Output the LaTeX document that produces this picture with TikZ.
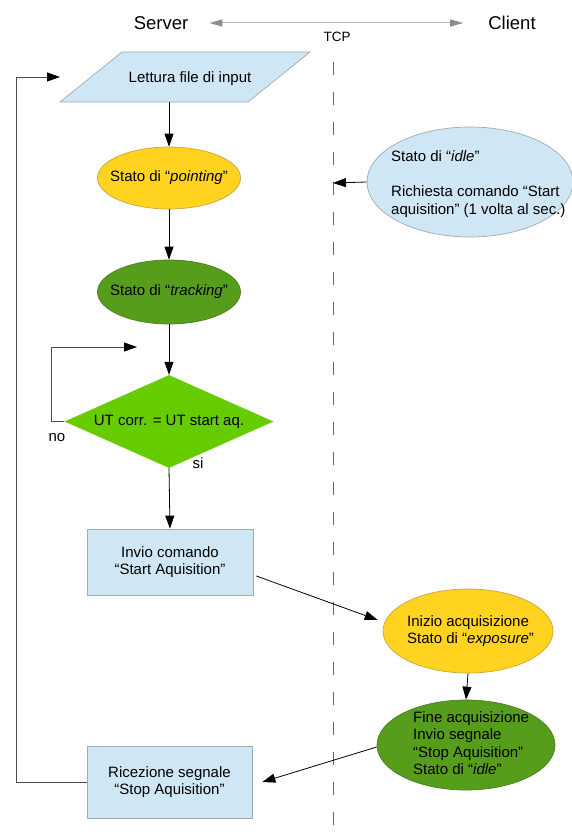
\documentclass[tikz,border=0pt]{standalone}
\usepackage{fontspec}
\setmainfont{Liberation Sans}
\usetikzlibrary{arrows.meta,shapes.geometric}
\definecolor{lblue}{HTML}{CFE7F5}
\definecolor{lbord}{HTML}{9FAAB4}
\definecolor{gold}{HTML}{FFD320}
\definecolor{goldb}{HTML}{C9A640}
\definecolor{dgreen}{HTML}{579D1C}
\definecolor{dgreenb}{HTML}{4A7F22}
\definecolor{bgreen}{HTML}{66CC00}
\begin{document}
\begin{tikzpicture}[x=1pt,y=-1pt,
  txt/.style={font=\fontsize{15}{17.5}\selectfont, inner sep=0pt},
  arr/.style={draw=black, line width=0.8pt, -{Triangle[length=13pt,width=9pt]}},
  looparr/.style={draw=black!70, line width=0.9pt, -{Triangle[length=13pt,width=9pt,color=black]}},
  boxnode/.style={rectangle, draw=lbord, fill=lblue, line width=0.7pt, inner sep=0pt},
  yel/.style={ellipse, draw=goldb, fill=gold, line width=0.7pt, inner sep=0pt},
  grn/.style={ellipse, draw=dgreenb, fill=dgreen, line width=0.7pt, inner sep=0pt},
  blu/.style={ellipse, draw=lbord, fill=lblue, line width=0.7pt, inner sep=0pt},
  dashline/.style={draw=black!60, line width=1pt, dash pattern=on 13pt off 17pt}]
\useasboundingbox[fill=white] (0,0) rectangle (571,834);

% header
\node[font=\fontsize{18.5}{20}\selectfont, inner sep=0pt] (srv) at (161,23) {Server};
\node[font=\fontsize{18.5}{20}\selectfont, inner sep=0pt] (cli) at (512,23) {Client};
\draw[draw=black!30, line width=1pt, {Triangle[length=13pt,width=7pt,color=black!45]}-{Triangle[length=13pt,width=7pt,color=black!45]}, shorten <=21pt, shorten >=25pt] (srv) -- (cli);
\node[font=\fontsize{13.5}{15}\selectfont, inner sep=0pt] (tcp) at (337,37) {TCP};

% dashed separator
\coordinate (dTop) at (333,62);
\coordinate (dBot) at (333,834);
\draw[dashline] (dTop) -- (dBot);

% input parallelogram
\filldraw[fill=lblue, draw=lbord, line width=0.7pt] (122,52) -- (310,52) -- (248,102) -- (60,102) -- cycle;
\node[txt] (inp) at (190,79) {Lettura file di input};
\coordinate (inpB) at (169,102);

% server column
\node[yel, minimum width=143pt, minimum height=62pt] (pt) at (169,178) {};
\node[txt] (ptT) at (pt.center) {Stato di “\textit{pointing}”};
\node[grn, minimum width=143pt, minimum height=64pt] (tr) at (169,292) {};
\node[txt] (trT) at (tr.center) {Stato di “\textit{tracking}”};
\node[diamond, fill=bgreen, draw=none, minimum width=209pt, minimum height=93pt, inner sep=0pt] (dia) at (169,421.5) {};
\node[txt] (diaT) at (dia.center) {UT corr. = UT start aq.};
\node[txt] (no) at (57,438) {no};
\node[txt] (si) at (198,463) {si};
\coordinate (noE) at (137,347);
\node[boxnode, minimum width=166pt, minimum height=66pt] (inv) at (170,562) {};
\node[txt, align=center] (invT) at (inv.center) {Invio comando\\ “Start Aquisition”};
\node[boxnode, minimum width=165pt, minimum height=72pt] (ric) at (169.5,782) {};
\node[txt, align=center] (ricT) at (ric.center) {Ricezione segnale\\ “Stop Aquisition”};
\coordinate (topTip) at (60,77);

% client column
\node[blu, minimum width=206pt, minimum height=110pt] (cl) at (470,182) {};
\node[txt, align=left, anchor=west] (clT) at (391,184) {Stato di “\textit{idle}”\\[17.5pt]Richiesta comando “Start\\aquisition” (1 volta al sec.)};
\coordinate (clTip) at (333,183);
\node[yel, minimum width=170pt, minimum height=84pt] (ex) at (468,631) {};
\node[txt, align=left, anchor=west] (exT) at (407,631) {Inizio acquisizione\\Stato di “\textit{exposure}”};
\node[grn, minimum width=178pt, minimum height=90pt] (fin) at (466,745) {};
\node[txt, align=left, anchor=west] (finT) at (413,743) {Fine acquisizione\\Invio segnale\\“Stop Aquisition”\\Stato di “\textit{idle}”};

% connectors
\draw[arr] (inpB) -- (pt.north);
\draw[arr] (pt.south) -- (tr.north);
\draw[arr] (tr.south) -- (dia.north);
\draw[arr] (dia.south) -- (inv.north);
\draw[looparr] (dia.west) -- ++(-13,0) |- (noE);
\draw[arr] ([xshift=3pt,yshift=-14pt]inv.east) -- ([xshift=-5pt,yshift=11pt]ex.west);
\draw[arr] (ex.south) -- (fin.north);
\draw[arr] ([yshift=-2pt]fin.west) -- ([xshift=10pt]ric.east);
\draw[looparr] (ric.west) -- ++(-70,0) |- (topTip);
\draw[arr] (cl.west) -- (clTip);
\end{tikzpicture}
\end{document}
